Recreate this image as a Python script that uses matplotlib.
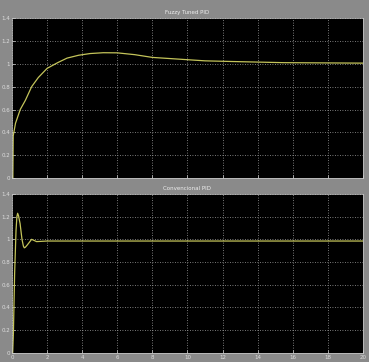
import numpy as np
import matplotlib
matplotlib.use('Agg')
import matplotlib.pyplot as plt

# --- data ---
# Fuzzy tuned PID response
t_fuzzy = [0, 0.05, 0.07, 0.2, 0.47, 0.76, 1.12, 1.5, 2.0, 2.6, 3.14, 3.8,
           4.46, 5.2, 6.0, 7.0, 8.0, 9.6, 11.0, 12.6, 15.5, 20]
y_fuzzy = [0, 0, 0.37, 0.48, 0.6, 0.68, 0.8, 0.88, 0.96, 1.01, 1.05, 1.075,
           1.09, 1.097, 1.096, 1.08, 1.056, 1.04, 1.026, 1.02, 1.01, 1.006]

# conventional PID response
t_conv = [0, 0.04, 0.08, 0.15, 0.23, 0.28, 0.32, 0.37, 0.46, 0.57, 0.65,
          0.70, 0.76, 0.87, 1.12, 1.4, 2.0, 20]
y_conv = [0, 0, 0.17, 0.70, 1.08, 1.2, 1.23, 1.21, 1.14, 1.0, 0.94,
          0.925, 0.93, 0.95, 1.0, 0.98, 0.985, 0.985]

titles = ['Fuzzy Tuned PID', 'Convencional PID']
x_ticks = np.arange(0, 21, 2)
y_ticks = [0, 0.2, 0.4, 0.6, 0.8, 1, 1.2, 1.4]
y_labels = ['0', '0.2', '0.4', '0.6', '0.8', '1', '1.2', '1.4']

bg = '#8a8a8a'
line_col = '#c4c45a'

fig = plt.figure(figsize=(3.69, 3.62), dpi=100, facecolor=bg)
ax1 = fig.add_axes([0.0325, 0.508, 0.951, 0.442])
ax2 = fig.add_axes([0.0325, 0.026, 0.951, 0.438])

for ax, t, y, title in [(ax1, t_fuzzy, y_fuzzy, titles[0]),
                        (ax2, t_conv, y_conv, titles[1])]:
    ax.set_facecolor('black')
    ax.plot(t, y, color=line_col, lw=0.9)
    ax.set_xlim(0, 20)
    ax.set_ylim(0, 1.4)
    ax.set_xticks(x_ticks)
    ax.set_yticks(y_ticks)
    ax.set_yticklabels(y_labels)
    ax.grid(True, color='#a0a0a0', linestyle=(0, (1, 2)), lw=0.6)
    ax.tick_params(direction='in', colors='#dddddd', labelsize=4,
                   length=2, width=0.5, pad=1.5)
    for s in ax.spines.values():
        s.set_color('#cccccc')
        s.set_linewidth(0.5)
    ax.set_title(title, color='#eeeeee', fontsize=4, pad=3)

ax1.set_xticklabels([])

plt.savefig('out.png', dpi=100, facecolor=bg)
